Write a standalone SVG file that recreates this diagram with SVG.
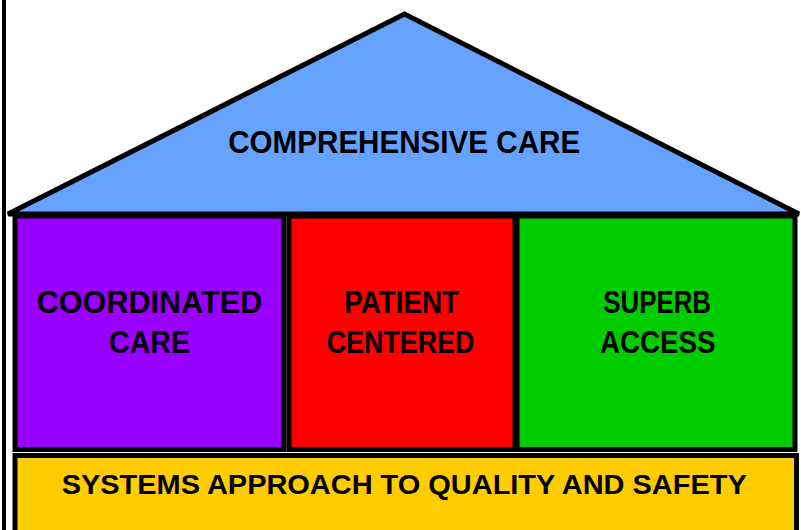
<svg xmlns="http://www.w3.org/2000/svg" width="801" height="530" viewBox="0 0 801 530">
  <style>
    .box { stroke: #000; stroke-width: 5; }
    .lbl { font-family: "Liberation Sans", Arial, sans-serif; font-weight: bold; fill: #000; text-anchor: middle; }
  </style>
  <rect x="0" y="0" width="801" height="530" fill="#fff"/>
  <line x1="4" y1="0" x2="4" y2="530" stroke="#000" stroke-width="4"/>
  <g id="roof">
    <polygon class="box" points="8,214 404.5,14 799,214" fill="#66A3FF" stroke-linejoin="miter"/>
    <text class="lbl" x="404.2" y="152.7" font-size="32" textLength="352" lengthAdjust="spacingAndGlyphs">COMPREHENSIVE CARE</text>
  </g>
  <g id="coordinated">
    <rect class="box" x="15" y="216" width="269" height="233.5" fill="#9900FF"/>
    <text class="lbl" x="149.5" y="313.3" font-size="31" textLength="225.6" lengthAdjust="spacingAndGlyphs">COORDINATED</text>
    <text class="lbl" x="149.5" y="352.7" font-size="31" textLength="81" lengthAdjust="spacingAndGlyphs">CARE</text>
  </g>
  <g id="patient">
    <rect class="box" x="289" y="216" width="226" height="233.5" fill="#FF0000"/>
    <text class="lbl" x="401.7" y="313.3" font-size="31" textLength="114.7" lengthAdjust="spacingAndGlyphs">PATIENT</text>
    <text class="lbl" x="400.5" y="352.7" font-size="31" textLength="147.6" lengthAdjust="spacingAndGlyphs">CENTERED</text>
  </g>
  <g id="access">
    <rect class="box" x="517" y="216" width="278" height="233.5" fill="#00CC00"/>
    <text class="lbl" x="657.2" y="313.3" font-size="31" textLength="107.7" lengthAdjust="spacingAndGlyphs">SUPERB</text>
    <text class="lbl" x="657.8" y="352.7" font-size="31" textLength="115.7" lengthAdjust="spacingAndGlyphs">ACCESS</text>
  </g>
  <g id="foundation">
    <rect class="box" x="15" y="455.5" width="781.5" height="100" fill="#FFCC00"/>
    <text class="lbl" x="404.2" y="494.3" font-size="27" textLength="685" lengthAdjust="spacingAndGlyphs">SYSTEMS APPROACH TO QUALITY AND SAFETY</text>
  </g>
  <g id="connectors"/>
</svg>
